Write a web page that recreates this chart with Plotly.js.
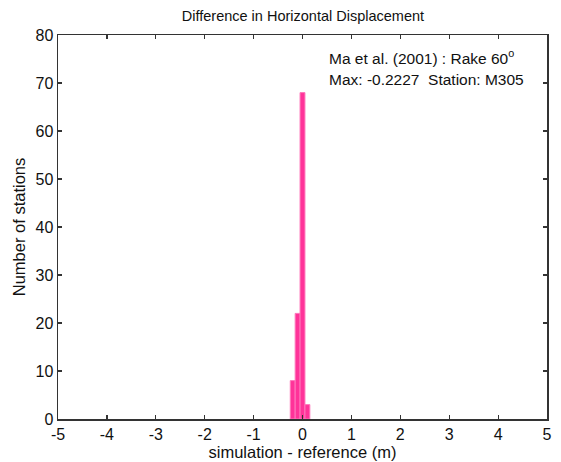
<!DOCTYPE html>
<html>
<head>
<meta charset="utf-8">
<script src="https://cdn.plot.ly/plotly-3.0.1.min.js"></script>
<style>html,body{margin:0;padding:0;background:#fff;}</style>
</head>
<body>
<div id="chart" style="width:561px;height:462px;"></div>
<script>
const binCenters = [-0.2, -0.1, 0, 0.1];
const counts = [8, 22, 68, 3];
const xTicks = [-5, -4, -3, -2, -1, 0, 1, 2, 3, 4, 5];
const yTicks = [0, 10, 20, 30, 40, 50, 60, 70, 80];
const annoLine1 = 'Ma et al. (2001) : Rake 60<sup>o</sup>';
const annoLine2 = 'Max: -0.2227  Station: M305';

const font = 'Arial, "Liberation Sans", sans-serif';
const axisCommon = {
  showgrid: false, zeroline: false, showline: true, mirror: 'ticks',
  linecolor: '#333', linewidth: 1.5, ticks: 'inside', ticklen: 4,
  tickcolor: '#333', tickwidth: 1.2,
  tickfont: {family: font, size: 16, color: '#111'}
};

Plotly.newPlot('chart', [{
  type: 'bar', x: binCenters, y: counts, width: 0.1,
  marker: {color: '#ff3399', line: {color: '#ff77bb', width: 1}}
}], {
  width: 561, height: 462,
  margin: {l: 58, r: 14, t: 35, b: 43},
  paper_bgcolor: '#fff', plot_bgcolor: '#fff',
  showlegend: false,
  title: {text: 'Difference in Horizontal Displacement', x: 0.54, xanchor: 'center', y: 0.965, yanchor: 'middle',
          font: {family: font, size: 14.5, color: '#111'}},
  xaxis: Object.assign({}, axisCommon, {
    range: [-5, 5], tickvals: xTicks, ticktext: xTicks.map(String),
    title: {text: 'simulation - reference (m)', standoff: 1, font: {family: font, size: 16.5, color: '#111'}}
  }),
  yaxis: Object.assign({}, axisCommon, {
    range: [0, 80], tickvals: yTicks, ticktext: yTicks.map(String),
    title: {text: 'Number of stations', standoff: 5, font: {family: font, size: 16.5, color: '#111'}}
  }),
  annotations: [
    {text: annoLine1, xref: 'x', yref: 'y', x: 0.5, y: 75.5, xanchor: 'left', yanchor: 'middle', showarrow: false,
     font: {family: font, size: 15.5, color: '#111'}},
    {text: annoLine2, xref: 'x', yref: 'y', x: 0.5, y: 70.8, xanchor: 'left', yanchor: 'middle', showarrow: false,
     font: {family: font, size: 15.5, color: '#111'}}
  ]
}, {displayModeBar: false, staticPlot: true});
</script>
</body>
</html>
